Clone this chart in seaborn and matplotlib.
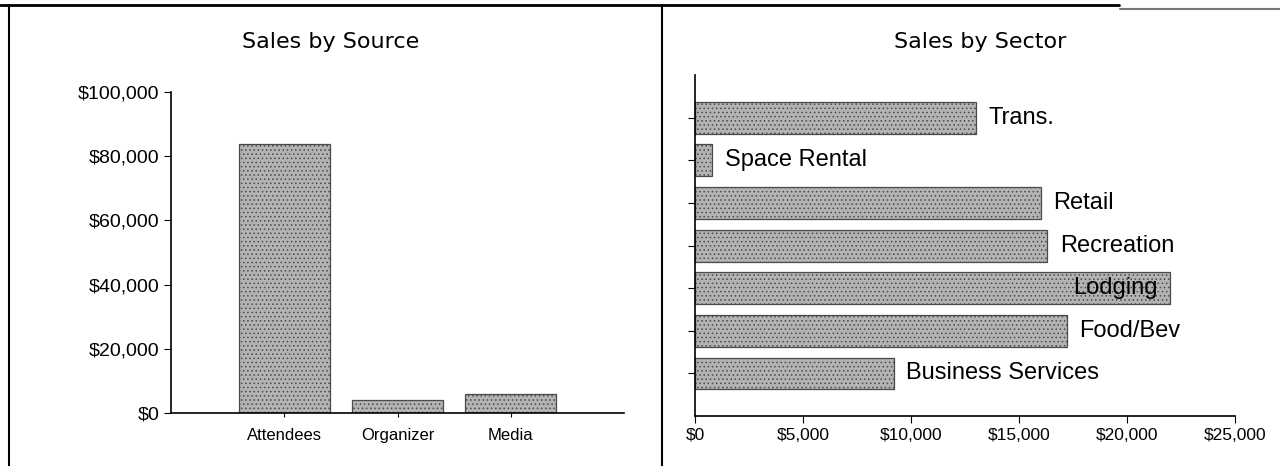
import matplotlib
matplotlib.use('Agg')
import matplotlib.pyplot as plt
from matplotlib.lines import Line2D
from matplotlib.ticker import StrMethodFormatter
import seaborn as sns

# values
sources = ['Attendees', 'Organizer', 'Media']
source_sales = [83700, 4200, 6000]

sectors = ['Trans.', 'Space Rental', 'Retail', 'Recreation', 'Lodging',
           'Food/Bev', 'Business Services']
sector_sales = [13000, 800, 16000, 16300, 22000, 17200, 9200]

source_ticks = [0, 20000, 40000, 60000, 80000, 100000]
sector_ticks = [0, 5000, 10000, 15000, 20000, 25000]

sns.set_style('ticks')
plt.rcParams['font.family'] = ['Liberation Sans', 'DejaVu Sans']
plt.rcParams['text.color'] = 'black'
plt.rcParams['xtick.color'] = 'black'
plt.rcParams['ytick.color'] = 'black'
plt.rcParams['hatch.linewidth'] = 0.6

bar_style = dict(color='#b3b3b3', edgecolor='#4a4a4a', linewidth=0.9,
                 hatch='....')

fig = plt.figure(figsize=(12.8, 4.66), dpi=100)

# left panel: Sales by Source
ax1 = fig.add_axes([0.1336, 0.1137, 0.3539, 0.6889])
sns.barplot(x=sources, y=source_sales, width=0.8, ax=ax1, **bar_style)
ax1.set_xlim(-1, 3)
ax1.set_ylim(0, 100000)
ax1.set_yticks(source_ticks)
ax1.yaxis.set_major_formatter(StrMethodFormatter('${x:,.0f}'))
ax1.tick_params(axis='y', labelsize=14, length=5)
ax1.tick_params(axis='x', labelsize=12, length=3, pad=8)
ax1.set_xlabel('')
ax1.set_ylabel('')
sns.despine(ax=ax1)
for s in ['left', 'bottom']:
    ax1.spines[s].set_color('black')
    ax1.spines[s].set_linewidth(1.2)

# right panel: Sales by Sector
ax2 = fig.add_axes([0.543, 0.107, 0.422, 0.732])
sns.barplot(x=sector_sales, y=sectors, orient='h', width=0.75, ax=ax2,
            **bar_style)
ax2.set_ylim(7, -1)
ax2.set_xlim(0, 25000)
ax2.set_xticks(sector_ticks)
ax2.xaxis.set_major_formatter(StrMethodFormatter('${x:,.0f}'))
ax2.tick_params(axis='x', labelsize=12.5, length=5)
ax2.tick_params(axis='y', labelleft=False, length=5)
ax2.set_xlabel('')
ax2.set_ylabel('')
sns.despine(ax=ax2)
for s in ['left', 'bottom']:
    ax2.spines[s].set_color('black')
    ax2.spines[s].set_linewidth(1.2)

for i, (name, v) in enumerate(zip(sectors, sector_sales)):
    if v > 20000:
        ax2.annotate(name, (v, i), xytext=(-9, 0), textcoords='offset points',
                     ha='right', va='center', fontsize=17)
    else:
        ax2.annotate(name, (v, i), xytext=(9, 0), textcoords='offset points',
                     ha='left', va='center', fontsize=17)

# titles
fig.text(0.258, 0.91, 'Sales by Source', ha='center', va='center',
         fontsize=16, family='DejaVu Sans')
fig.text(0.766, 0.91, 'Sales by Sector', ha='center', va='center',
         fontsize=16, family='DejaVu Sans')

# scanned page frame
fig.add_artist(Line2D([0, 0.874], [0.989, 0.989], color='black', lw=2))
fig.add_artist(Line2D([0.875, 1.0], [0.981, 0.981], color='#777777', lw=1.5))
fig.add_artist(Line2D([0.007, 0.007], [0, 0.989], color='black', lw=1.5))
fig.add_artist(Line2D([0.517, 0.517], [0, 0.989], color='black', lw=1.5))

fig.savefig('out.png', dpi=100)
